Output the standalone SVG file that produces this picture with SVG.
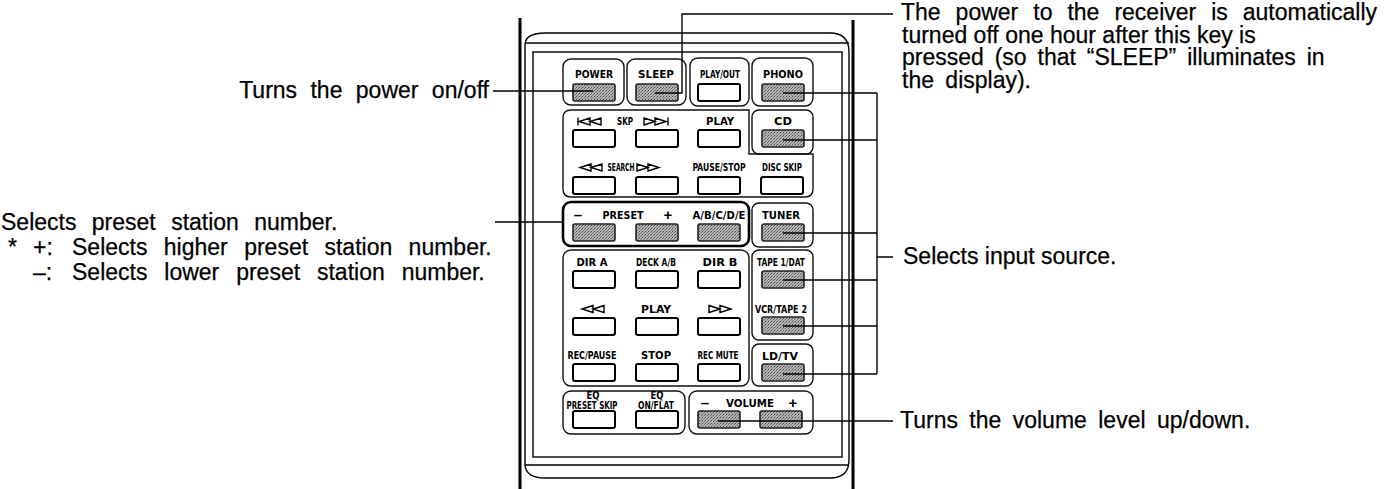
<svg xmlns="http://www.w3.org/2000/svg" width="1385" height="489" viewBox="0 0 1385 489">
<style>
.t{font-family:"Liberation Sans",Arial,sans-serif;font-size:23px;fill:#000;stroke:#000;stroke-width:0.25}
.l{font-family:"Liberation Sans Narrow","DejaVu Sans Condensed","Liberation Sans",sans-serif;font-weight:bold;font-size:10px;fill:#000;text-anchor:middle}
.pm{font-family:"Liberation Sans",Arial,sans-serif;font-weight:bold;font-size:15px;fill:#000;text-anchor:middle}
.box{fill:none;stroke:#111;stroke-width:1.4}
.btn{fill:#fff;stroke:#000;stroke-width:2}
.sh{fill:url(#ht);stroke:#222;stroke-width:1.6}
.ln{fill:none;stroke:#000;stroke-width:1.4}
.body{fill:none;stroke:#000;stroke-width:1.4}
.ico{fill:none;stroke:#000;stroke-width:1.4;stroke-linejoin:miter}
</style>
<defs>
<pattern id="ht" width="3" height="3" patternUnits="userSpaceOnUse"><rect width="3" height="3" fill="#b4b4b4"/><rect width="1" height="1" fill="#4a4a4a"/><rect x="2" y="1" width="1" height="1" fill="#6a6a6a"/><rect x="1" y="2" width="1" height="1" fill="#888"/></pattern>
<g id="rew"><path class="ico" d="M12,-3.5 L1,0 L12,3.5 Z M23,-3.5 L12,0 L23,3.5 Z"/></g>
<g id="ff"><path class="ico" d="M0,-3.5 L11,0 L0,3.5 Z M11,-3.5 L22,0 L11,3.5 Z"/></g>
</defs>
<rect width="1385" height="489" fill="#fff"/>

<g id="remote-body">
<line x1="520" y1="18" x2="520" y2="489" stroke="#000" stroke-width="3"/>
<line x1="853" y1="20" x2="853" y2="489" stroke="#000" stroke-width="3"/>
<path class="body" d="M525,465 V44 Q526,33 545,33 H830 Q849,33 849,52 V460 Q849,478 830,478 H545 Q526,478 525,465"/>
<line class="body" x1="525" y1="43" x2="849" y2="43"/>
<line class="body" x1="525" y1="465" x2="849" y2="465"/>
<rect class="body" x="533" y="52" width="309" height="405"/>
</g>

<g id="power">
<rect class="box" x="563" y="59" width="61" height="46" rx="8"/>
<text class="l" x="594" y="78" textLength="38" lengthAdjust="spacingAndGlyphs">POWER</text>
<rect class="sh" x="573" y="84" width="42" height="17" rx="2"/>
</g>
<g id="sleep">
<rect class="box" x="627" y="59" width="59" height="46" rx="8"/>
<text class="l" x="656" y="78" textLength="36" lengthAdjust="spacingAndGlyphs">SLEEP</text>
<rect class="sh" x="636" y="84" width="42" height="17" rx="2"/>
</g>
<g id="playout">
<rect class="box" x="690" y="58" width="59" height="48" rx="8"/>
<text class="l" x="720" y="78" textLength="40" lengthAdjust="spacingAndGlyphs">PLAY/OUT</text>
<rect class="btn" x="698" y="84" width="42" height="17" rx="2"/>
</g>
<g id="phono">
<rect class="box" x="752" y="58" width="61" height="48" rx="8"/>
<text class="l" x="783" y="78" textLength="40" lengthAdjust="spacingAndGlyphs">PHONO</text>
<rect class="sh" x="762" y="84" width="42" height="17" rx="2"/>
</g>

<g id="skip-search">
<path class="box" d="M571,110 H749 V154 H813 V189 Q813,197 805,197 H571 Q563,197 563,189 V118 Q563,110 571,110 Z"/>
<path class="ico" d="M578,117.5 V125.5"/>
<use href="#rew" x="578" y="121.5"/>
<text class="l" x="625" y="125" textLength="16" lengthAdjust="spacingAndGlyphs">SKP</text>
<use href="#ff" x="644" y="121.5"/>
<path class="ico" d="M668,117.5 V125.5"/>
<text class="l" x="720" y="125" textLength="28" lengthAdjust="spacingAndGlyphs">PLAY</text>
<rect class="btn" x="573" y="130" width="42" height="17" rx="2"/>
<rect class="btn" x="636" y="130" width="42" height="17" rx="2"/>
<rect class="btn" x="698" y="130" width="42" height="17" rx="2"/>
<use href="#rew" x="579" y="167.5"/>
<text class="l" x="621" y="171" textLength="27" lengthAdjust="spacingAndGlyphs">SEARCH</text>
<use href="#ff" x="637" y="167.5"/>
<text class="l" x="719" y="171" textLength="53" lengthAdjust="spacingAndGlyphs">PAUSE/STOP</text>
<text class="l" x="782" y="171" textLength="40" lengthAdjust="spacingAndGlyphs">DISC SKIP</text>
<rect class="btn" x="573" y="177" width="42" height="17" rx="2"/>
<rect class="btn" x="636" y="177" width="42" height="17" rx="2"/>
<rect class="btn" x="698" y="177" width="42" height="17" rx="2"/>
<rect class="btn" x="761" y="177" width="42" height="17" rx="2"/>
</g>
<g id="cd">
<rect class="box" x="752" y="110" width="61" height="44" rx="7"/>
<text class="l" x="783" y="125" textLength="18" lengthAdjust="spacingAndGlyphs">CD</text>
<rect class="sh" x="762" y="130" width="42" height="17" rx="2"/>
</g>

<g id="preset">
<rect x="563" y="202" width="186" height="44" rx="8" fill="none" stroke="#000" stroke-width="2.6"/>
<text class="pm" x="578" y="220">–</text>
<text class="l" x="623" y="219" textLength="41" lengthAdjust="spacingAndGlyphs">PRESET</text>
<text class="pm" x="668" y="220">+</text>
<text class="l" x="719" y="219" textLength="53" lengthAdjust="spacingAndGlyphs">A/B/C/D/E</text>
<rect class="sh" x="573" y="224" width="42" height="17" rx="2"/>
<rect class="sh" x="636" y="224" width="42" height="17" rx="2"/>
<rect class="sh" x="698" y="224" width="42" height="17" rx="2"/>
</g>
<g id="tuner">
<rect class="box" x="752" y="203" width="61" height="44" rx="7"/>
<text class="l" x="781" y="219" textLength="38" lengthAdjust="spacingAndGlyphs">TUNER</text>
<rect class="sh" x="762" y="224" width="42" height="17" rx="2"/>
</g>

<g id="deck">
<rect class="box" x="563" y="250" width="186" height="136" rx="8"/>
<text class="l" x="592" y="266" textLength="31" lengthAdjust="spacingAndGlyphs">DIR A</text>
<text class="l" x="656" y="266" textLength="40" lengthAdjust="spacingAndGlyphs">DECK A/B</text>
<text class="l" x="720" y="266" textLength="35" lengthAdjust="spacingAndGlyphs">DIR B</text>
<rect class="btn" x="573" y="271" width="42" height="17" rx="2"/>
<rect class="btn" x="636" y="271" width="42" height="17" rx="2"/>
<rect class="btn" x="698" y="271" width="42" height="17" rx="2"/>
<use href="#rew" x="581" y="309"/>
<text class="l" x="656" y="313" textLength="30" lengthAdjust="spacingAndGlyphs">PLAY</text>
<use href="#ff" x="709" y="309"/>
<rect class="btn" x="573" y="318" width="42" height="17" rx="2"/>
<rect class="btn" x="636" y="318" width="42" height="17" rx="2"/>
<rect class="btn" x="698" y="318" width="42" height="17" rx="2"/>
<text class="l" x="592" y="359" textLength="49" lengthAdjust="spacingAndGlyphs">REC/PAUSE</text>
<text class="l" x="656" y="359" textLength="30" lengthAdjust="spacingAndGlyphs">STOP</text>
<text class="l" x="718" y="359" textLength="41" lengthAdjust="spacingAndGlyphs">REC MUTE</text>
<rect class="btn" x="573" y="364" width="42" height="17" rx="2"/>
<rect class="btn" x="636" y="364" width="42" height="17" rx="2"/>
<rect class="btn" x="698" y="364" width="42" height="17" rx="2"/>
</g>
<g id="tape-vcr">
<rect class="box" x="752" y="250" width="61" height="90" rx="7"/>
<text class="l" x="781" y="266" textLength="48" lengthAdjust="spacingAndGlyphs">TAPE 1/DAT</text>
<rect class="sh" x="762" y="271" width="42" height="17" rx="2"/>
<text class="l" x="781" y="313" textLength="52" lengthAdjust="spacingAndGlyphs">VCR/TAPE 2</text>
<rect class="sh" x="762" y="317" width="42" height="17" rx="2"/>
</g>
<g id="ldtv">
<rect class="box" x="752" y="344" width="61" height="42" rx="7"/>
<text class="l" x="780" y="360" textLength="36" lengthAdjust="spacingAndGlyphs">LD/TV</text>
<rect class="sh" x="762" y="364" width="42" height="17" rx="2"/>
</g>

<g id="eq">
<rect class="box" x="563" y="391" width="122" height="43" rx="8"/>
<text class="l" x="593" y="399" font-size="8.5" textLength="13" lengthAdjust="spacingAndGlyphs">EQ</text>
<text class="l" x="592" y="408.5" font-size="9" textLength="51" lengthAdjust="spacingAndGlyphs">PRESET SKIP</text>
<text class="l" x="657" y="399" font-size="8.5" textLength="13" lengthAdjust="spacingAndGlyphs">EQ</text>
<text class="l" x="656" y="408.5" font-size="9" textLength="36" lengthAdjust="spacingAndGlyphs">ON/FLAT</text>
<rect class="btn" x="573" y="411" width="42" height="17" rx="2"/>
<rect class="btn" x="636" y="411" width="42" height="17" rx="2"/>
</g>
<g id="volume">
<rect class="box" x="689" y="391" width="124" height="43" rx="8"/>
<text class="pm" x="705" y="408">–</text>
<text class="l" x="750" y="407" textLength="48" lengthAdjust="spacingAndGlyphs">VOLUME</text>
<text class="pm" x="793" y="408">+</text>
<rect class="sh" x="698" y="411" width="42" height="17" rx="2"/>
<rect class="sh" x="760" y="411" width="42" height="17" rx="2"/>
</g>

<g id="connectors">
<path class="ln" d="M493,91 H593"/>
<path class="ln" d="M655,93 H682 V14 H893"/>
<path class="ln" d="M783,93 H877 M783,140 H877 M783,233 H877 M783,280 H877 M783,326 H877 M783,374 H877 M877,93 V374 M877,257 H893"/>
<path class="ln" d="M495,222 H563"/>
<path class="ln" d="M718,421 H893"/>
</g>

<g id="labels">
<text class="t" x="489" y="98" text-anchor="end" word-spacing="7">Turns the power on/off</text>
<text class="t" x="1" y="230" word-spacing="9">Selects preset station number.</text>
<text class="t" x="8" y="255">*</text>
<text class="t" x="33" y="255">+:</text>
<text class="t" x="72" y="255" word-spacing="10">Selects higher preset station number.</text>
<text class="t" x="33" y="280">–:</text>
<text class="t" x="72" y="280" word-spacing="10.5">Selects lower preset station number.</text>
<text class="t" x="901" y="20" word-spacing="8.6">The power to the receiver is automatically</text>
<text class="t" x="902" y="42.5">turned off one hour after this key is</text>
<text class="t" x="902" y="65" word-spacing="4.5">pressed (so that “SLEEP” illuminates in</text>
<text class="t" x="902" y="87.5" word-spacing="5">the display).</text>
<text class="t" x="903" y="264">Selects input source.</text>
<text class="t" x="900" y="428" word-spacing="5">Turns the volume level up/down.</text>
</g>
</svg>
